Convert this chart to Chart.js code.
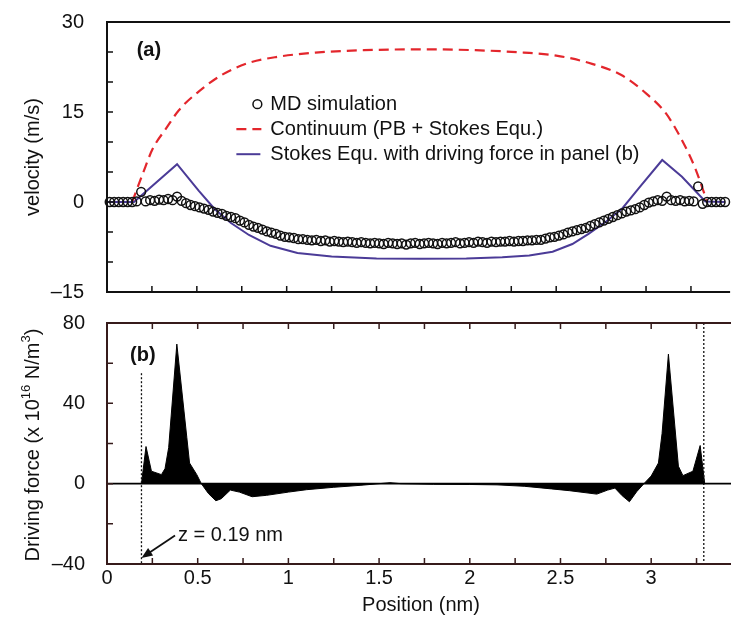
<!DOCTYPE html>
<html>
<head>
<meta charset="utf-8">
<script src="https://cdn.jsdelivr.net/npm/chart.js@4.4.1/dist/chart.umd.min.js"></script>
<style>
html, body { margin: 0; padding: 0; background: #fff; }
#wrap { position: relative; width: 731px; height: 620px; overflow: hidden; }
#topChart, #bottomChart { position: absolute; left: 0; }
#topChart { top: 0; }
#bottomChart { top: 300px; }
</style>
</head>
<body>
<div id="wrap">
  <canvas id="topChart" width="731" height="300"></canvas>
  <canvas id="bottomChart" width="731" height="320"></canvas>
</div>
<script>
// ---- data ----
var posLabels = [0, 0.5, 1, 1.5, 2, 2.5, 3];
var velLabels = [-15, 0, 15, 30];
var forceLabels = [-40, 0, 40, 80];

// MD simulation (circles)
var mdX = [0.015, 0.04, 0.065, 0.09, 0.115, 0.14, 0.165, 0.19, 0.215, 0.24,
  0.265, 0.29, 0.315, 0.34, 0.365, 0.39, 0.415, 0.44, 0.465, 0.49,
  0.515, 0.54, 0.565, 0.59, 0.615, 0.64, 0.665, 0.69, 0.715, 0.74,
  0.765, 0.79, 0.815, 0.84, 0.865, 0.89, 0.915, 0.94, 0.965, 0.99,
  1.015, 1.04, 1.065, 1.09, 1.115, 1.14, 1.165, 1.19, 1.215, 1.24,
  1.265, 1.29, 1.315, 1.34, 1.365, 1.39, 1.415, 1.44, 1.465, 1.49,
  1.515, 1.54, 1.565, 1.59, 1.615, 1.64, 1.665, 1.69, 1.715, 1.74,
  1.765, 1.79, 1.815, 1.84, 1.865, 1.89, 1.915, 1.94, 1.965, 1.99,
  2.015, 2.04, 2.065, 2.09, 2.115, 2.14, 2.165, 2.19, 2.215, 2.24,
  2.265, 2.29, 2.315, 2.34, 2.365, 2.39, 2.415, 2.44, 2.465, 2.49,
  2.515, 2.54, 2.565, 2.59, 2.615, 2.64, 2.665, 2.69, 2.715, 2.74,
  2.765, 2.79, 2.815, 2.84, 2.865, 2.89, 2.915, 2.94, 2.965, 2.99,
  3.015, 3.04, 3.065, 3.09, 3.115, 3.14, 3.165, 3.19, 3.215, 3.24,
  3.265, 3.29, 3.315, 3.34, 3.365, 3.39, 3.415, 3.44];
var mdV = [0, 0, 0, 0, 0, 0, 0.1, 1.7, 0.1, 0.3,
  0.2, 0.4, 0.3, 0.5, 0.3, 0.9, 0.2, -0.2, -0.5, -0.7,
  -0.9, -1.1, -1.3, -1.6, -1.8, -2.0, -2.3, -2.5, -2.7, -3.1,
  -3.4, -3.8, -4.1, -4.3, -4.6, -4.9, -5.1, -5.3, -5.6, -5.8,
  -5.9, -6.0, -6.2, -6.2, -6.3, -6.4, -6.3, -6.5, -6.4, -6.6,
  -6.5, -6.6, -6.7, -6.6, -6.7, -6.8, -6.7, -6.8, -6.9, -6.8,
  -6.9, -7.0, -6.8, -6.9, -7.0, -6.9, -7.1, -6.9, -6.8, -7.0,
  -6.9, -6.8, -6.9, -7.0, -6.8, -6.9, -6.8, -6.7, -6.9, -6.8,
  -6.7, -6.8, -6.6, -6.7, -6.8, -6.6, -6.7, -6.6, -6.6, -6.5,
  -6.6, -6.5, -6.5, -6.4, -6.4, -6.3, -6.3, -6.1, -5.9, -5.8,
  -5.6, -5.4, -5.1, -4.9, -4.7, -4.5, -4.3, -4.0, -3.7, -3.4,
  -3.1, -2.8, -2.5, -2.2, -1.9, -1.6, -1.4, -1.2, -0.9, -0.5,
  -0.1, 0.1, 0.3, 0.2, 0.9, 0.3, 0.2, 0.3, 0.1, 0.2,
  0.1, 2.6, -0.3, 0, 0, 0, 0, 0];

// Continuum (PB + Stokes Equ.)
var contX = [0.14, 0.20, 0.255, 0.33, 0.40, 0.51, 0.64, 0.79, 0.95, 1.16, 1.43, 1.74,
  2.05, 2.32, 2.50, 2.68, 2.86, 3.00, 3.11, 3.20, 3.27, 3.33, 3.34];
var contV = [0, 4.8, 8.9, 12.3, 15.3, 18.4, 21.2, 23.2, 24.2, 24.9, 25.3, 25.45,
  25.3, 24.9, 24.4, 23.2, 21.2, 18.1, 14.8, 10.3, 5.9, 0.9, 0];

// Stokes Equ. with driving force in panel (b)
var stokesX = [0, 0.15, 0.39, 0.51, 0.60, 0.69, 0.79, 0.91, 1.06, 1.25, 1.50, 1.74,
  2.00, 2.20, 2.35, 2.48, 2.59, 2.68, 2.78, 2.87, 2.96, 3.09, 3.20, 3.33, 3.44];
var stokesV = [0, 0, 6.3, 1.9, -1.2, -3.5, -5.5, -7.3, -8.5, -9.1, -9.4, -9.45,
  -9.4, -9.2, -8.9, -8.3, -7.0, -5.3, -3.2, -1.0, 2.3, 7.0, 4.2, 0.1, 0];

// Driving force, panel (b)
var forceX = [0.19, 0.215, 0.245, 0.30, 0.32, 0.34, 0.385, 0.44, 0.455, 0.495, 0.52,
  0.56, 0.60, 0.63, 0.68, 0.73, 0.80, 0.88, 1.00, 1.10, 1.25, 1.40, 1.50, 1.56, 1.62,
  1.80, 2.00, 2.15, 2.30, 2.45, 2.55, 2.70, 2.76, 2.80, 2.84, 2.88, 2.92, 2.96,
  3.00, 3.04, 3.06, 3.095, 3.15, 3.175, 3.23, 3.27, 3.295];
var forceV = [0, 18.5, 6.2, 4.5, 7.5, 18, 69.5, 23, 10.3, 4.5, 0,
  -5, -8.5, -7.5, -3.2, -4.2, -6.5, -5.8, -4.2, -3, -1.8, -0.8, 0, 0.5, 0,
  -0.3, -0.4, -0.6, -1.3, -2.6, -3.5, -5.2, -3.2, -2.2, -6, -9, -4, 0,
  3.8, 10.3, 25, 64.5, 8.7, 4, 6.2, 19, 0];

var wallX = [0.19, 3.29];
var wallTop = [55, 80];

function pts(xs, ys) {
  return xs.map(function (x, i) { return { x: x, y: ys[i] }; });
}

var FONT = '"Liberation Sans", Arial, Helvetica, sans-serif';
Chart.defaults.font.family = FONT;
Chart.defaults.font.size = 20;
Chart.defaults.color = '#111';
Chart.defaults.animation = false;

var RED = '#e3262c';
var PURPLE = '#4b3b97';

// inward ticks + frame drawn on the chart area
function drawFrame(chart, color, mirrorTop) {
  var ctx = chart.ctx, ca = chart.chartArea;
  var xs = chart.scales.x, ys = chart.scales.y;
  ctx.save();
  ctx.strokeStyle = color;
  ctx.lineWidth = 1.5;
  ctx.beginPath();
  xs.ticks.forEach(function (t) {
    var p = xs.getPixelForValue(t.value);
    ctx.moveTo(p, ca.bottom); ctx.lineTo(p, ca.bottom - 6);
    if (mirrorTop) { ctx.moveTo(p, ca.top); ctx.lineTo(p, ca.top + 6); }
  });
  ys.ticks.forEach(function (t) {
    var p = ys.getPixelForValue(t.value);
    ctx.moveTo(ca.left, p); ctx.lineTo(ca.left + 6, p);
  });
  ctx.stroke();
  ctx.lineWidth = 2;
  ctx.beginPath();
  ctx.moveTo(ca.right + 5, ca.top);
  ctx.lineTo(ca.left, ca.top);
  ctx.lineTo(ca.left, ca.bottom);
  ctx.lineTo(ca.right + 5, ca.bottom);
  ctx.stroke();
  ctx.restore();
}

var topDeco = {
  id: 'topDeco',
  afterDraw: function (chart) {
    var ctx = chart.ctx;
    var xs = chart.scales.x, ys = chart.scales.y;
    drawFrame(chart, '#111', false);
    ctx.save();
    ctx.fillStyle = '#111';
    ctx.textBaseline = 'middle';

    // panel label
    ctx.font = 'bold 20px ' + FONT;
    ctx.fillText('(a)', xs.getPixelForValue(0.165), ys.getPixelForValue(25.3));

    // legend
    var lx = xs.getPixelForValue(0.72), ly = ys.getPixelForValue(16.3);
    ctx.font = '20px ' + FONT;
    ctx.fillText('MD simulation', lx + 34, ly);
    ctx.fillText('Continuum (PB + Stokes Equ.)', lx + 34, ly + 25);
    ctx.fillText('Stokes Equ. with driving force in panel (b)', lx + 34, ly + 50);
    ctx.strokeStyle = '#111';
    ctx.lineWidth = 1.5;
    ctx.beginPath(); ctx.arc(lx + 21, ly, 4.4, 0, Math.PI * 2); ctx.stroke();
    ctx.strokeStyle = RED; ctx.lineWidth = 2.2;
    ctx.setLineDash([10, 6]);
    ctx.beginPath(); ctx.moveTo(lx, ly + 25); ctx.lineTo(lx + 25, ly + 25); ctx.stroke();
    ctx.setLineDash([]);
    ctx.strokeStyle = PURPLE; ctx.lineWidth = 2;
    ctx.beginPath(); ctx.moveTo(lx, ly + 50); ctx.lineTo(lx + 24, ly + 50); ctx.stroke();

    // y title
    ctx.translate(33, (chart.chartArea.top + chart.chartArea.bottom) / 2);
    ctx.rotate(-Math.PI / 2);
    ctx.textAlign = 'center';
    ctx.fillText('velocity (m/s)', 0, 0);
    ctx.restore();
  }
};

var bottomDeco = {
  id: 'bottomDeco',
  afterDatasetsDraw: function (chart) {
    var ctx = chart.ctx, ca = chart.chartArea;
    var ys = chart.scales.y;
    // zero line
    var y0 = ys.getPixelForValue(0);
    ctx.save();
    ctx.strokeStyle = '#000';
    ctx.lineWidth = 1.6;
    ctx.beginPath(); ctx.moveTo(ca.left, y0); ctx.lineTo(ca.right + 5, y0); ctx.stroke();
    ctx.restore();
  },
  afterDraw: function (chart) {
    var ctx = chart.ctx, ca = chart.chartArea;
    var xs = chart.scales.x, ys = chart.scales.y;
    drawFrame(chart, '#361b1b', true);
    ctx.save();
    ctx.fillStyle = '#111';
    ctx.textBaseline = 'middle';
    ctx.font = 'bold 20px ' + FONT;
    ctx.fillText('(b)', xs.getPixelForValue(0.127), ys.getPixelForValue(64));

    // arrow to the wall
    var tx = xs.getPixelForValue(0.19), ty = ys.getPixelForValue(-37);
    var sx = xs.getPixelForValue(0.375), sy = ys.getPixelForValue(-25.8);
    var ang = Math.atan2(ty - sy, tx - sx);
    ctx.strokeStyle = '#111'; ctx.lineWidth = 1.8;
    ctx.beginPath(); ctx.moveTo(sx, sy);
    ctx.lineTo(tx - 8 * Math.cos(ang), ty - 8 * Math.sin(ang)); ctx.stroke();
    ctx.beginPath();
    ctx.moveTo(tx, ty);
    ctx.lineTo(tx - 11 * Math.cos(ang) + 4.5 * Math.sin(ang), ty - 11 * Math.sin(ang) - 4.5 * Math.cos(ang));
    ctx.lineTo(tx - 11 * Math.cos(ang) - 4.5 * Math.sin(ang), ty - 11 * Math.sin(ang) + 4.5 * Math.cos(ang));
    ctx.closePath(); ctx.fill();
    ctx.font = '20px ' + FONT;
    ctx.fillText('z = 0.19 nm', xs.getPixelForValue(0.391), ys.getPixelForValue(-25.6));

    // x title
    ctx.textAlign = 'center';
    ctx.fillText('Position (nm)', (ca.left + 731) / 2 + 2, 305);

    // y title with superscripts
    var parts = [['Driving force (x 10', 20, 0], ['16', 13, -9], [' N/m', 20, 0], ['3', 13, -9], [')', 20, 0]];
    var total = 0;
    parts.forEach(function (p) { ctx.font = p[1] + 'px ' + FONT; p.w = ctx.measureText(p[0]).width; total += p.w; });
    ctx.translate(39, 145);
    ctx.rotate(-Math.PI / 2);
    ctx.textAlign = 'left';
    ctx.textBaseline = 'alphabetic';
    var cx = -total / 2;
    parts.forEach(function (p) {
      ctx.font = p[1] + 'px ' + FONT;
      ctx.fillText(p[0], cx, p[2]);
      cx += p.w;
    });
    ctx.restore();
  }
};

function tickLabel(list) {
  return function (v) {
    for (var i = 0; i < list.length; i++) {
      if (Math.abs(list[i] - v) < 1e-6) return list[i] < 0 ? '\u2013' + Math.abs(list[i]) : String(list[i]);
    }
    return '';
  };
}

function fitY(s) { s.width = 107; s.paddingTop = 0; s.paddingBottom = 0; }

// nudge layout padding so the plot box lands where the figure has it
function pinArea(chart, top, bottom) {
  for (var k = 0; k < 3; k++) {
    var ca = chart.chartArea, p = chart.options.layout.padding;
    var dt = top - ca.top, db = ca.bottom - bottom;
    if (Math.abs(dt) < 0.5 && Math.abs(db) < 0.5) break;
    p.top += dt;
    p.bottom += db;
    chart.update();
  }
}

var topChart = new Chart(document.getElementById('topChart').getContext('2d'), {
  type: 'line',
  data: {
    datasets: [
      {
        label: 'MD simulation',
        data: pts(mdX, mdV),
        showLine: false,
        pointStyle: 'circle',
        pointRadius: 4.4,
        pointBorderWidth: 1.5,
        pointBorderColor: '#111',
        pointBackgroundColor: 'rgba(0,0,0,0)'
      },
      {
        label: 'Stokes Equ. with driving force in panel (b)',
        data: pts(stokesX, stokesV),
        borderColor: PURPLE,
        borderWidth: 2,
        pointRadius: 0,
        tension: 0,
        fill: false
      },
      {
        label: 'Continuum (PB + Stokes Equ.)',
        data: pts(contX, contV),
        borderColor: RED,
        borderWidth: 2.2,
        borderDash: [10, 6],
        pointRadius: 0,
        cubicInterpolationMode: 'monotone',
        fill: false
      }
    ]
  },
  options: {
    responsive: false,
    clip: false,
    layout: { padding: { top: 22, left: 0, right: 0, bottom: 0 } },
    scales: {
      x: {
        type: 'linear', min: 0, max: 3.44,
        grid: { display: false, drawTicks: false },
        border: { display: false },
        ticks: { display: false, stepSize: 0.25, includeBounds: false },
        afterFit: function (s) { s.height = 8; s.paddingLeft = 0; s.paddingRight = 0; }
      },
      y: {
        min: -15, max: 30,
        grid: { display: false, drawTicks: false },
        border: { display: false },
        ticks: { stepSize: 5, padding: 23, callback: tickLabel(velLabels), autoSkip: false },
        afterFit: fitY
      }
    },
    plugins: { legend: { display: false }, tooltip: { enabled: false } }
  },
  plugins: [topDeco]
});

var bottomChart = new Chart(document.getElementById('bottomChart').getContext('2d'), {
  type: 'line',
  data: {
    datasets: [
      {
        label: 'left wall',
        data: [{ x: wallX[0], y: wallTop[0] }, { x: wallX[0], y: -40 }],
        borderColor: '#111', borderWidth: 1.3, borderDash: [2, 2],
        pointRadius: 0, fill: false
      },
      {
        label: 'right wall',
        data: [{ x: wallX[1], y: wallTop[1] }, { x: wallX[1], y: -40 }],
        borderColor: '#111', borderWidth: 1.3, borderDash: [2, 2],
        pointRadius: 0, fill: false
      },
      {
        label: 'Driving force',
        data: pts(forceX, forceV),
        borderColor: '#000',
        backgroundColor: '#000',
        borderWidth: 1,
        pointRadius: 0,
        tension: 0,
        fill: 'origin'
      }
    ]
  },
  options: {
    responsive: false,
    layout: { padding: { top: 23, left: 0, right: 0, bottom: 0 } },
    scales: {
      x: {
        type: 'linear', min: 0, max: 3.44,
        grid: { display: false, drawTicks: false },
        border: { display: false },
        ticks: { stepSize: 0.25, includeBounds: false, padding: 2, maxRotation: 0, autoSkip: false, callback: tickLabel(posLabels) },
        afterFit: function (s) { s.height = 56; s.paddingLeft = 0; s.paddingRight = 0; }
      },
      y: {
        min: -40, max: 80,
        grid: { display: false, drawTicks: false },
        border: { display: false },
        ticks: { stepSize: 20, padding: 22, callback: tickLabel(forceLabels), autoSkip: false },
        afterFit: fitY
      }
    },
    plugins: { legend: { display: false }, tooltip: { enabled: false } }
  },
  plugins: [bottomDeco]
});

pinArea(topChart, 22, 292);
pinArea(bottomChart, 23, 264);
</script>
</body>
</html>
